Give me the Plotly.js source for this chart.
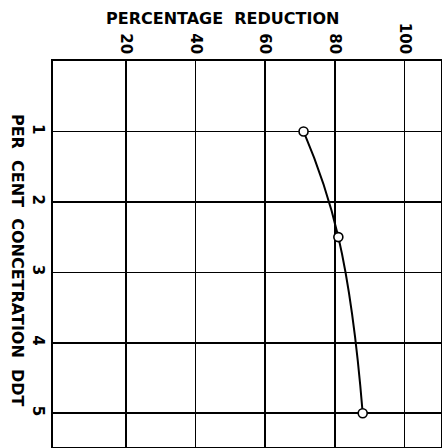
<!DOCTYPE html>
<html>
<head>
<meta charset="utf-8">
<script src="https://cdn.plot.ly/plotly-3.0.1.min.js"></script>
<style>html,body{margin:0;padding:0;background:#fff;}</style>
</head>
<body>
<div id="chart" style="width:442px;height:448px;"></div>
<script>
// Data
const concentration = [1, 2.5, 5];        // per cent concentration DDT
const reduction = [71, 81, 88];           // percentage reduction
const xTicks = [20, 40, 60, 80, 100];
const xTickLabels = ['20', '40', '60', '80', '100'];
const yTicks = [1, 2, 3, 4, 5];
const yTickLabels = ['1', '2', '3', '4', '5'];

const FONT = 'DejaVu Sans, Liberation Sans, sans-serif';

const trace = {
  x: reduction,
  y: concentration,
  type: 'scatter',
  mode: 'lines+markers',
  line: {color: '#000', width: 2, shape: 'spline', smoothing: 1.3},
  marker: {symbol: 'circle', size: 9, color: '#fff', line: {width: 1.6, color: '#000'}},
  hoverinfo: 'skip'
};

const layout = {
  width: 442,
  height: 448,
  margin: {l: 53, r: 1, t: 61, b: 1},
  paper_bgcolor: '#fff',
  plot_bgcolor: '#fff',
  showlegend: false,
  font: {family: FONT, color: '#000', size: 15},
  xaxis: {
    side: 'top',
    range: [-1, 110.5],
    tickvals: xTicks,
    ticktext: xTickLabels,
    tickangle: 90,
    ticks: '',
    tickfont: {family: FONT, size: 15, color: '#000', weight: 'bold'},
    showgrid: true,
    gridcolor: '#000',
    gridwidth: 1.6,
    zeroline: false,
    showline: true,
    linecolor: '#000',
    linewidth: 1.6,
    mirror: true,
    fixedrange: true
  },
  yaxis: {
    range: [5.48, 0],
    tickvals: yTicks,
    ticktext: yTickLabels,
    tickangle: 90,
    ticks: '',
    tickfont: {family: FONT, size: 15, color: '#000', weight: 'bold'},
    showgrid: true,
    gridcolor: '#000',
    gridwidth: 1.6,
    zeroline: false,
    showline: true,
    linecolor: '#000',
    linewidth: 1.6,
    mirror: true,
    fixedrange: true
  },
  annotations: [
    {
      text: 'PERCENTAGE  REDUCTION',
      xref: 'paper', yref: 'paper',
      x: 0.4356, y: 1.111,
      xanchor: 'center', yanchor: 'middle',
      showarrow: false,
      font: {family: FONT, size: 16, color: '#000', weight: 'bold'}
    },
    {
      text: 'PER  CENT  CONCETRATION  DDT',
      xref: 'paper', yref: 'paper',
      x: -0.0928, y: 0.482,
      xanchor: 'center', yanchor: 'middle',
      textangle: 90,
      showarrow: false,
      font: {family: FONT, size: 16, color: '#000', weight: 'bold'}
    }
  ]
};

Plotly.newPlot('chart', [trace], layout, {staticPlot: true, displayModeBar: false});
</script>
</body>
</html>
